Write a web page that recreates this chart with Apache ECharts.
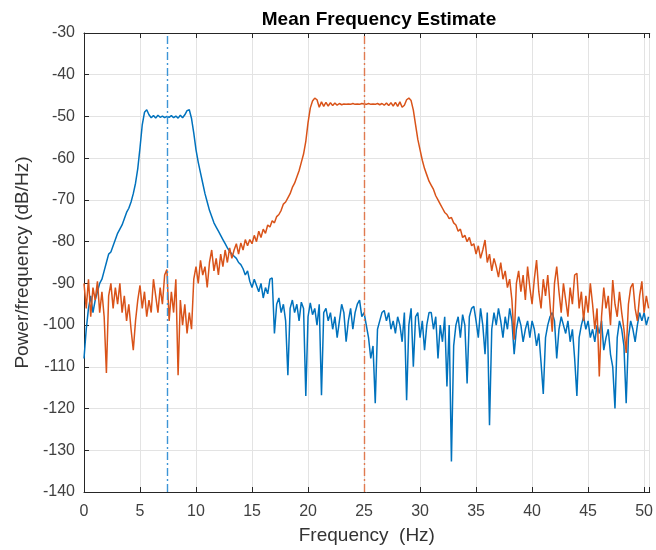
<!DOCTYPE html>
<html>
<head>
<meta charset="utf-8">
<script src="https://cdn.jsdelivr.net/npm/echarts@6/dist/echarts.min.js"></script>
<style>
  html, body { margin: 0; padding: 0; background: #fff; }
  #main { width: 656px; height: 550px; }
</style>
</head>
<body>
<div id="main"></div>
<script>
// frequency spacing of the PSD estimate (Hz)
var freqStep = 0.2;
var xTicks = [0, 5, 10, 15, 20, 25, 30, 35, 40, 45, 50];
var yTicks = [-140, -130, -120, -110, -100, -90, -80, -70, -60, -50, -40, -30];
// mean frequency of each signal (Hz)
var meanFreq = [7.45, 25.0];

// blue: band 5.5-9.5 Hz
var psdBlue = [
  -108, -101, -96, -93, -97, -94, -92, -90, -89, -87,
  -85, -83, -82.5, -81, -79.5, -78, -77, -76, -74.5, -73,
  -72, -70.5, -68.5, -66, -62.5, -57.5, -52, -49, -48.4, -49.6,
  -50.3, -49.8, -50.4, -49.7, -50.2, -49.9, -50.3, -50, -50.2, -49.8,
  -50.3, -49.9, -50.4, -49.7, -50.3, -49.6, -48.6, -48.4, -50.5, -54,
  -58, -61, -63.5, -66, -68.5, -70.5, -72.5, -74, -75.5, -76.5,
  -77.5, -78.5, -79.5, -80.5, -81.5, -82.3, -83, -83.5, -84, -85,
  -85.5, -86.5, -88, -87, -89.5, -91, -89, -90.5, -92, -90,
  -93.5, -91, -92.5, -89, -88.7, -102, -95, -93.5, -97, -95,
  -99, -112, -96, -94, -97, -95, -99, -94.5, -96, -117,
  -98, -94.7, -97.5, -96, -100, -95, -116.8, -97, -96, -99,
  -97, -101, -98, -103, -99, -95, -97, -104, -99, -96,
  -101, -97, -95, -94, -98, -97, -100, -103, -108, -105,
  -118.7, -101, -99, -97, -96.5, -99, -97, -101, -99, -102,
  -98, -100, -104, -97, -118, -100, -96, -110, -98, -97,
  -103, -99, -106, -100, -97, -97, -101, -98, -108, -100,
  -104, -98, -114.7, -100, -132.7, -105, -100, -98, -103, -97.5,
  -100, -114, -98, -96, -95.5, -99, -103, -96, -100, -107,
  -97, -124, -101, -97, -100, -96, -99, -103, -98, -101,
  -96, -99, -107, -101, -98, -100, -104, -101, -99, -103,
  -99, -101, -105, -102, -109, -116.5, -103, -100, -98, -97,
  -99, -108, -101, -98, -100, -102, -99, -104, -101, -108,
  -117, -103, -100, -98, -101, -99, -103, -101, -104, -100,
  -102, -99, -106, -103, -101, -107, -110, -120, -103, -99,
  -101, -105, -118.7, -103, -99, -101, -104, -100, -97, -99,
  -97, -100, -98
];

// orange: band 20.5-29.5 Hz
var psdOrange = [
  -90, -96, -89, -98, -91, -94, -89.5, -97, -92, -98,
  -111.5, -93, -90, -96, -91, -95, -90, -97, -93, -99,
  -95, -101, -106, -99, -94, -90.5, -96, -92, -98, -94,
  -97, -89, -93, -97, -91, -95, -88, -86.7, -99, -92,
  -97, -89, -112, -94, -100, -95, -102, -97, -101, -89,
  -86, -90, -84.5, -88, -86, -91, -85, -82, -87, -84,
  -88, -83, -86, -82, -85, -81.5, -84, -82, -80.5, -83,
  -80.3, -82, -79.5, -81, -79.5, -80.5, -78.5, -80, -77.5, -79,
  -77, -78, -76, -76.5, -75, -75.5, -74, -73.5, -72.5, -71,
  -70.5, -69.5, -68.5, -67, -66, -64.5, -63, -61, -59, -56,
  -51.5, -48, -46.3, -45.6, -46, -47.8, -46.5, -47.6, -46.6, -47.5,
  -46.7, -47.4, -46.8, -47.3, -46.9, -47.2, -47, -47.1, -47, -47.1,
  -46.9, -47.1, -47, -47.1, -46.9, -47, -47.1, -46.9, -47.1, -47,
  -47.1, -46.9, -47.2, -46.9, -47.3, -46.8, -47.4, -46.7, -47.5, -46.6,
  -47.6, -46.5, -47.8, -47.3, -46, -45.6, -46.2, -48.5, -52, -55.5,
  -58, -60.5, -62.5, -64, -65.5, -66.5, -67.5, -69, -70, -71,
  -72, -73, -73.5, -74.5, -74.2, -75.5, -76, -77.5, -77, -79,
  -78.5, -80, -79, -81, -80.5, -83, -81, -84, -82, -79.6,
  -85, -83, -87, -84, -86, -88.5, -85, -89, -87, -91,
  -89, -94, -103.5, -90, -87, -92, -88, -94, -86, -91,
  -95, -89, -84.4, -92, -96, -89, -93, -88, -95, -101.6,
  -90, -86, -92, -97, -90, -94, -98, -91, -95, -88,
  -87.6, -96, -92, -99, -93, -97, -90, -95, -101, -96,
  -112.3, -98, -91, -96, -93, -100, -89.2, -95, -98, -92,
  -97, -101, -106.7, -95, -91, -90, -96, -99, -93, -89.5,
  -97, -93, -96
];

function toPairs(values) {
  return values.map(function (v, i) { return [i * freqStep, v]; });
}

var chart = echarts.init(document.getElementById('main'));
var font = 'Liberation Sans, Arial, Helvetica, sans-serif';
var axisColor = '#262626';

var option = {
  animation: false,
  backgroundColor: '#fff',
  title: {
    text: 'Mean Frequency Estimate',
    left: 374,
    top: 5,
    textAlign: 'center',
    textStyle: { fontFamily: font, fontSize: 19, fontWeight: 'bold', color: '#000' }
  },
  grid: { left: 84, right: 0, top: 33, bottom: 58 },
  xAxis: [{
    type: 'value',
    min: 0,
    max: 50.5,
    interval: 5,
    name: 'Frequency  (Hz)',
    nameLocation: 'middle',
    nameGap: 34,
    nameTextStyle: { fontFamily: font, fontSize: 19, color: '#333' },
    axisLine: { show: true, onZero: false, lineStyle: { color: axisColor, width: 1 } },
    axisTick: { show: true, inside: true, length: 5, lineStyle: { color: axisColor } },
    axisLabel: {
      fontFamily: font, fontSize: 16, color: '#404040', margin: 12,
      formatter: function (v) { return xTicks.indexOf(v) >= 0 ? String(v) : ''; }
    },
    splitLine: { show: true, lineStyle: { color: '#e3e3e3', width: 1 } }
  }, {
    type: 'value',
    position: 'top',
    min: 0,
    max: 50.5,
    interval: 5,
    axisLine: { show: true, lineStyle: { color: axisColor, width: 1 } },
    axisTick: { show: true, inside: true, length: 5, lineStyle: { color: axisColor } },
    axisLabel: { show: false },
    splitLine: { show: false }
  }],
  yAxis: {
    type: 'value',
    min: yTicks[0],
    max: yTicks[yTicks.length - 1],
    interval: 10,
    name: 'Power/frequency (dB/Hz)',
    nameLocation: 'middle',
    nameGap: 52,
    nameTextStyle: { fontFamily: font, fontSize: 19, color: '#333' },
    axisLine: { show: true, onZero: false, lineStyle: { color: axisColor, width: 1 } },
    axisTick: { show: true, inside: true, length: 5, lineStyle: { color: axisColor } },
    axisLabel: { fontFamily: font, fontSize: 16, color: '#404040', margin: 9 },
    splitLine: { show: true, lineStyle: { color: '#e3e3e3', width: 1 } }
  },
  series: [{
    type: 'line',
    data: toPairs(psdBlue),
    showSymbol: false,
    lineStyle: { color: '#0072BD', width: 1.5 },
    itemStyle: { color: '#0072BD' },
    z: 3,
    markLine: {
      silent: true,
      symbol: 'none',
      label: { show: false },
      lineStyle: { color: '#3d95d6', width: 1.4, type: [8, 3, 2, 3] },
      data: [{ xAxis: meanFreq[0] }]
    }
  }, {
    type: 'line',
    data: toPairs(psdOrange),
    showSymbol: false,
    lineStyle: { color: '#D95319', width: 1.5 },
    itemStyle: { color: '#D95319' },
    z: 4,
    markLine: {
      silent: true,
      symbol: 'none',
      label: { show: false },
      lineStyle: { color: '#e07a50', width: 1.4, type: [8, 3, 2, 3] },
      data: [{ xAxis: meanFreq[1] }]
    }
  }]
};

chart.setOption(option);
</script>
</body>
</html>
